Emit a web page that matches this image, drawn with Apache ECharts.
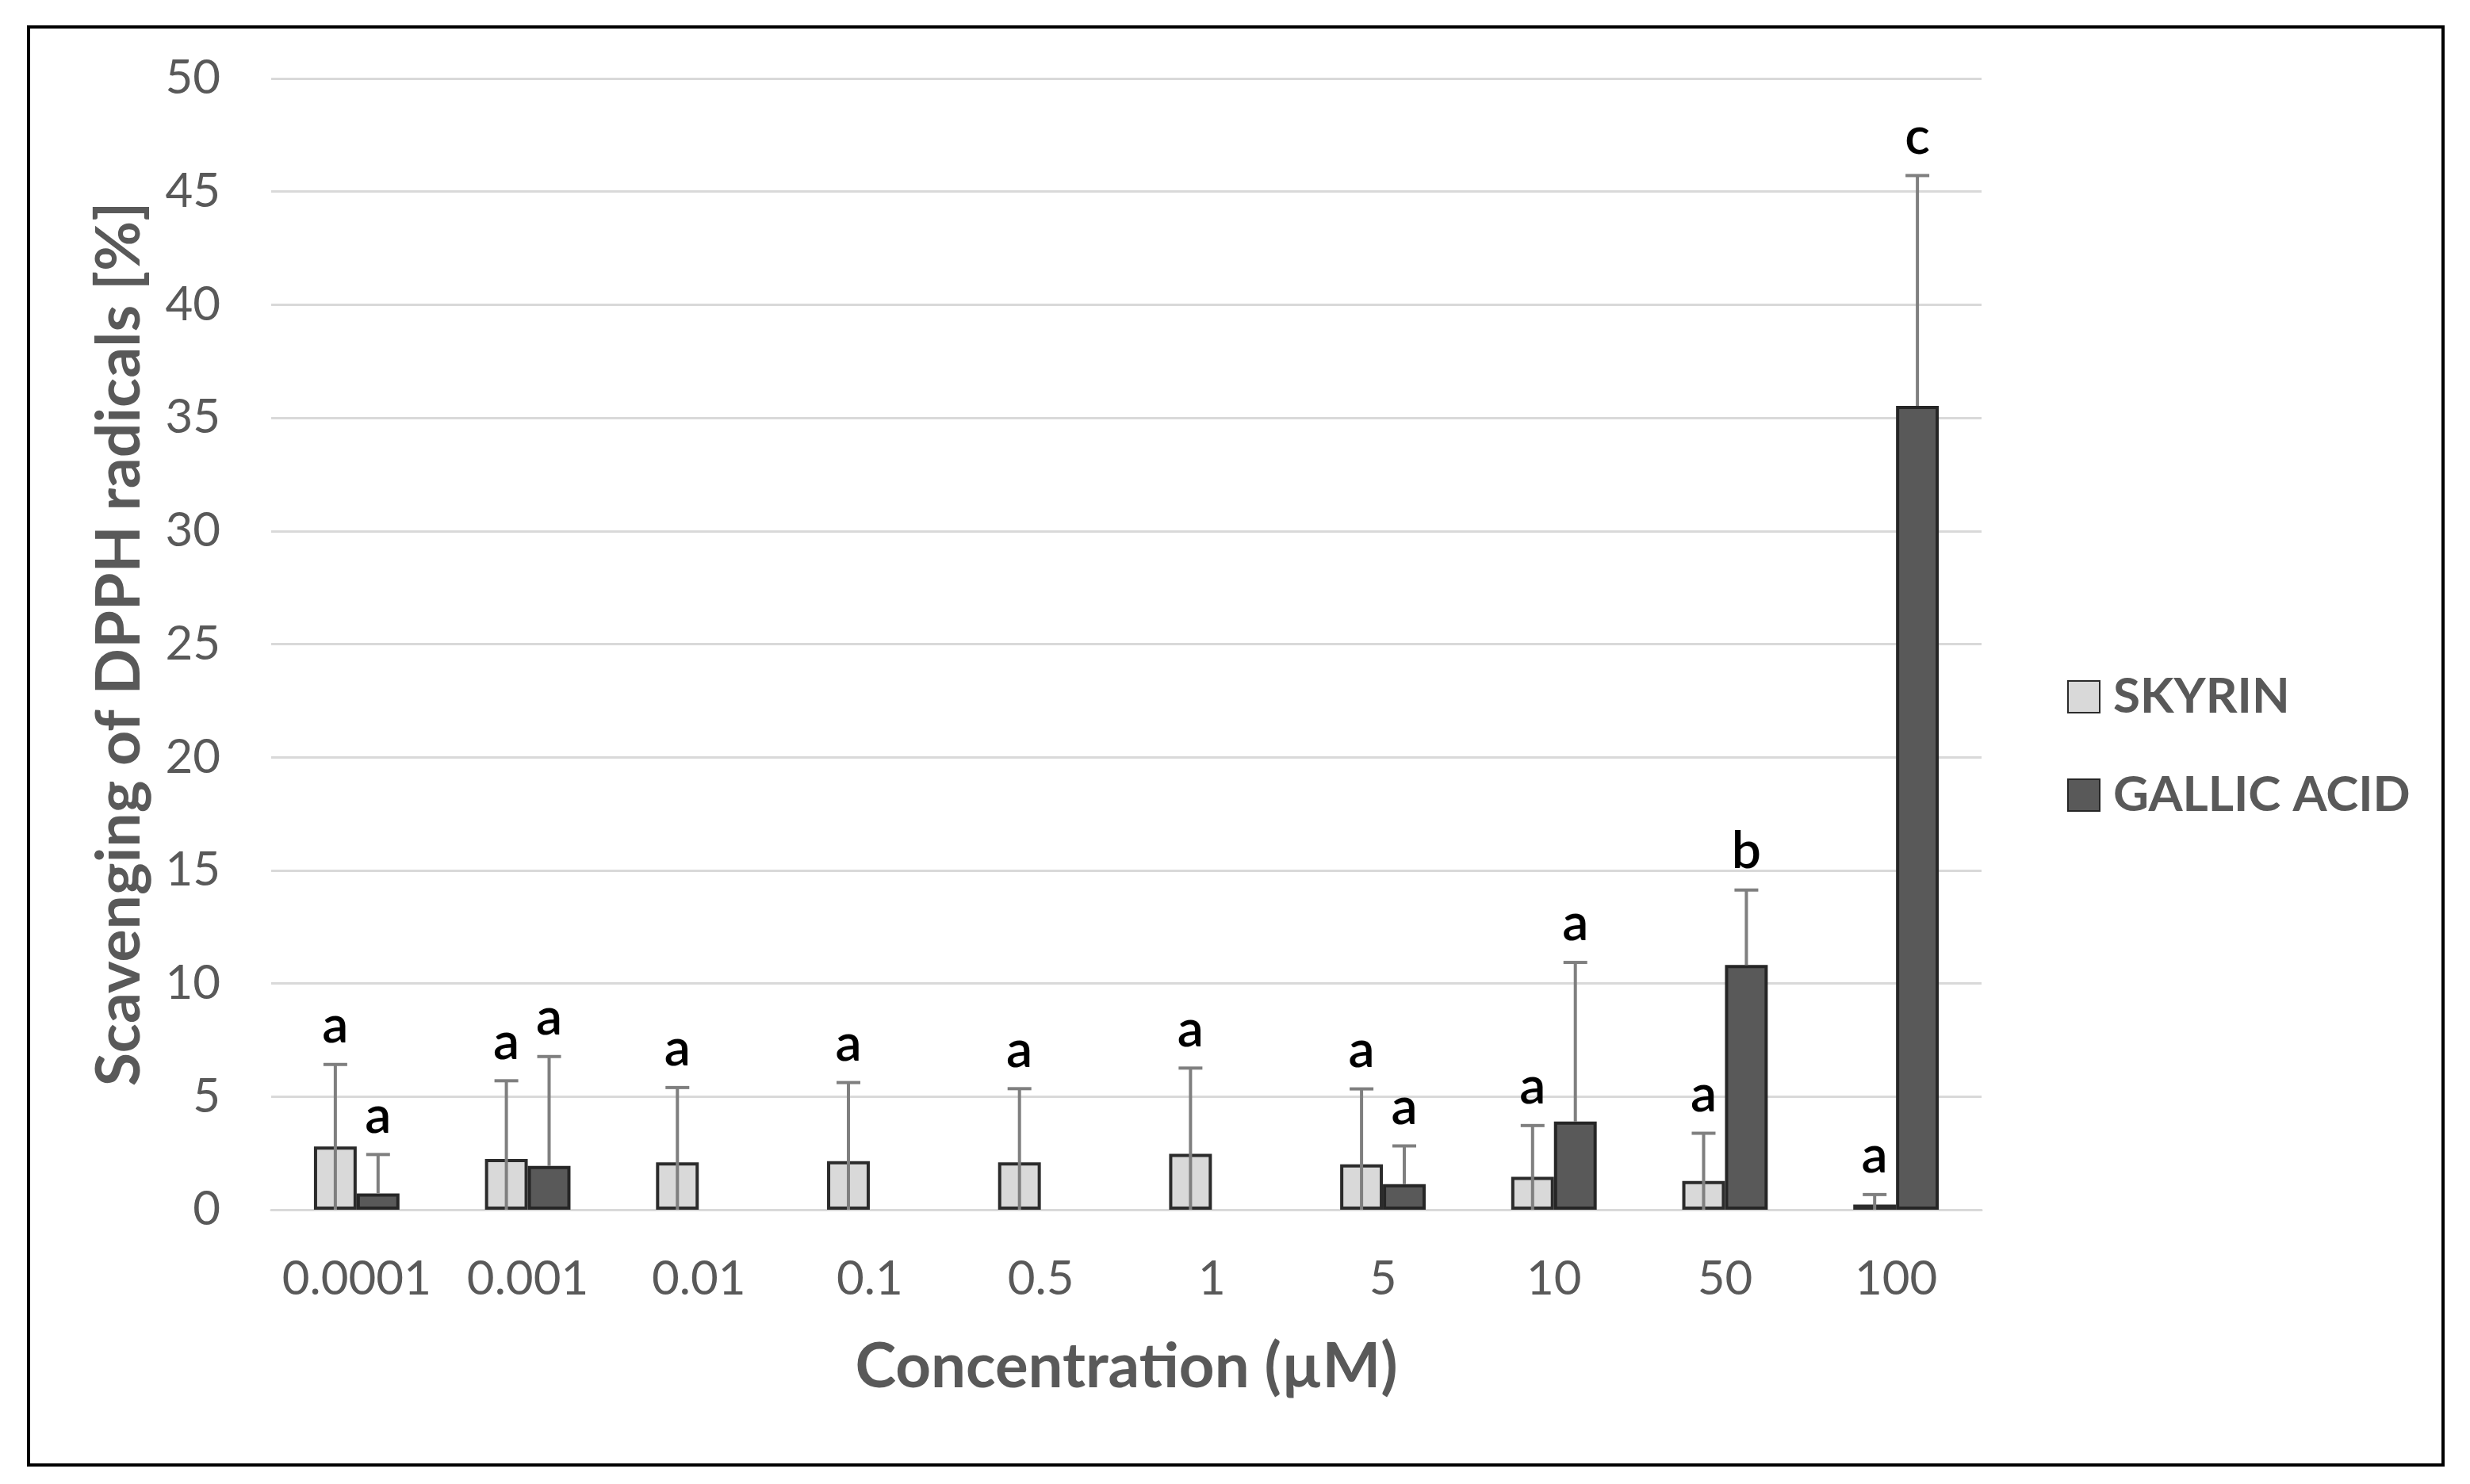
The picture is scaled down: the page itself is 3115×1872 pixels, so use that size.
<!DOCTYPE html>
<html>
<head>
<meta charset="utf-8">
<script src="https://cdn.jsdelivr.net/npm/echarts@6/dist/echarts.min.js"></script>
<style>html,body{margin:0;padding:0;background:#fff}#c{width:3115px;height:1872px}</style>
</head>
<body>
<div id="c"></div>
<script>
const categories = ['0.0001','0.001','0.01','0.1','0.5','1','5','10','50','100'];
const skyrinValues = [2.79, 2.24, 2.09, 2.15, 2.09, 2.47, 2.01, 1.45, 1.27, 0.23];
const skyrinErrors = [3.63, 3.46, 3.31, 3.47, 3.26, 3.79, 3.33, 2.27, 2.11, 0.44];
const skyrinLetters = ['a','a','a','a','a','a','a','a','a','a'];
const gallicValues = [0.72, 1.94, null, null, null, null, 1.13, 3.90, 10.82, 35.53];
const gallicErrors = [1.72, 4.83, null, null, null, null, 1.69, 7.03, 3.31, 10.18];
const gallicLetters = ['a','a','','','','','a','a','b','c'];
const yTicks = {min: 0, max: 50, interval: 5};

const FONT = 'Lato, "Open Sans", sans-serif';

function errSeries(name, values, errors, letters, sign, fromZero) {
  return {
    type: 'custom',
    name: name + ' err',
    z: 5,
    silent: true,
    data: categories.map((c, i) => [i, values[i] == null ? null : values[i] + errors[i]]),
    renderItem: function (params, api) {
      const i = params.dataIndex;
      const v = values[i];
      if (v == null) return null;
      const e = errors[i];
      const bw = api.size([1, 0])[0];
      const c = api.coord([i, v]);
      const x = c[0] + sign * bw / 8;
      const low = fromZero ? Math.max(0, v - e) : v;
      const yLow = api.coord([i, low])[1];
      const yTop = api.coord([i, v + e])[1];
      const cap = 15;
      const ls = {stroke: '#7f7f7f', lineWidth: 4};
      const children = [
        {type: 'line', shape: {x1: x, y1: yLow, x2: x, y2: yTop}, style: ls},
        {type: 'line', shape: {x1: x - cap, y1: yTop, x2: x + cap, y2: yTop}, style: ls}
      ];
      if (letters[i]) {
        children.push({
          type: 'text', x: x, y: yTop - 16,
          style: {text: letters[i], fill: '#000', font: '600 66px ' + FONT, align: 'center', verticalAlign: 'bottom'}
        });
      }
      return {type: 'group', children: children};
    }
  };
}

const chart = echarts.init(document.getElementById('c'));
chart.setOption({
  animation: false,
  backgroundColor: '#fff',
  graphic: [{
    type: 'rect', shape: {x: 36, y: 34, width: 3045, height: 1814},
    style: {fill: 'none', stroke: '#000', lineWidth: 4}, z: -1
  }],
  grid: {left: 342, right: 616, top: 99, bottom: 346},
  legend: {
    orient: 'vertical', left: 2602, top: 843, itemWidth: 40, itemHeight: 40, itemGap: 62, icon: 'rect',
    data: ['SKYRIN', 'GALLIC ACID'],
    textStyle: {fontFamily: FONT, fontWeight: 'bold', fontSize: 62, color: '#595959', padding: [0, 0, 0, 12]}
  },
  xAxis: {
    type: 'category', data: categories,
    axisLine: {lineStyle: {color: '#d9d9d9', width: 3}},
    axisTick: {show: false},
    axisLabel: {interval: 0, fontFamily: FONT, fontSize: 60, color: '#595959', margin: 58},
    name: 'Concentration (\u00b5M)', nameLocation: 'middle', nameGap: 160,
    nameTextStyle: {fontFamily: FONT, fontWeight: 'bold', fontSize: 78, color: '#595959'}
  },
  yAxis: {
    type: 'value', min: yTicks.min, max: yTicks.max, interval: yTicks.interval,
    axisLine: {show: false}, axisTick: {show: false},
    splitLine: {lineStyle: {color: '#d9d9d9', width: 3}},
    axisLabel: {fontFamily: FONT, fontSize: 60, color: '#595959', margin: 64},
    name: 'Scavenging of DPPH radicals [%]', nameLocation: 'middle', nameGap: 152,
    nameTextStyle: {fontFamily: FONT, fontWeight: 'bold', fontSize: 77, color: '#595959'}
  },
  series: [
    {
      type: 'bar', name: 'SKYRIN', data: skyrinValues, barGap: '0%', barCategoryGap: '50%',
      itemStyle: {color: '#d9d9d9', borderColor: '#2b2b2b', borderWidth: 4}
    },
    {
      type: 'bar', name: 'GALLIC ACID', data: gallicValues, barGap: '0%', barCategoryGap: '50%',
      itemStyle: {color: '#595959', borderColor: '#262626', borderWidth: 4}
    },
    errSeries('SKYRIN', skyrinValues, skyrinErrors, skyrinLetters, -1, true),
    errSeries('GALLIC ACID', gallicValues, gallicErrors, gallicLetters, 1, false)
  ]
});
</script>
</body>
</html>
